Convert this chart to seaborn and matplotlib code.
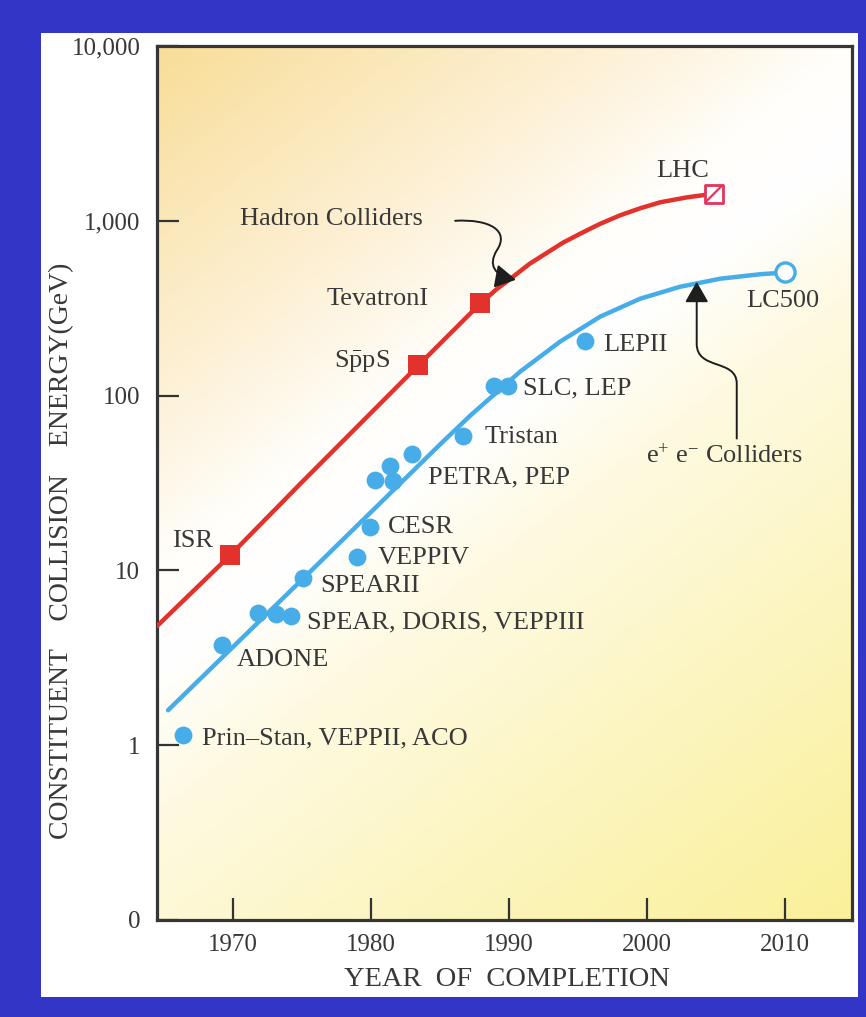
import numpy as np
import pandas as pd
import matplotlib
matplotlib.use("Agg")
import matplotlib.pyplot as plt
import seaborn as sns
from matplotlib.colors import LinearSegmentedColormap
from matplotlib.path import Path
from matplotlib.patches import FancyArrowPatch, Rectangle
from matplotlib.ticker import FixedLocator, FixedFormatter, NullLocator

# ---------------- data ----------------
hadron_names = ["ISR", "SppS", "TevatronI"]
hadron_year = [1969.8, 1983.4, 1987.9]
hadron_gev = [12.2, 150, 340]
lhc_year = [2004.85]
lhc_gev = [1430]

hadron_curve_year = [1964.5, 1969.8, 1974.9, 1983.4, 1987.9, 1989.1, 1990.3,
                     1991.5, 1992.75, 1993.9, 1995.15, 1996.6, 1998.05,
                     1999.5, 2000.95, 2002.9, 2004.8]
hadron_curve_gev = [4.8, 12.2, 31.4, 148, 335, 406, 479, 568, 656, 749, 843,
                    961, 1075, 1179, 1276, 1362, 1427]

ee_year = [1966.4, 1969.2, 1971.8, 1973.1, 1974.2, 1975.1, 1979.0, 1979.9,
           1980.3, 1981.4, 1981.6, 1983.0, 1986.7, 1988.9, 1989.9, 1995.5]
ee_gev = [1.14, 3.73, 5.7, 5.6, 5.5, 9.0, 12.0, 17.8,
          33.0, 39.8, 32.3, 46.6, 59.1, 114, 114, 204]
lc500_year = [2010.0]
lc500_gev = [508]

ee_curve_year = [1965.3, 1975.1, 1985.0, 1987.2, 1990.8, 1993.7, 1996.6,
                 1999.5, 2002.4, 2005.3, 2008.2, 2010.0]
ee_curve_gev = [1.585, 9.0, 52.5, 76.9, 137, 203.5, 282.8, 358.3, 419.6,
                466.3, 494.7, 506]

label_text = ["ISR", r"S$\bar{\mathrm{p}}$pS", "TevatronI", "Hadron Colliders",
              "LC500", "LEPII", "SLC, LEP", "Tristan", "PETRA, PEP", "CESR",
              "VEPPIV", "SPEARII", "SPEAR, DORIS, VEPPIII", "ADONE",
              "Prin–Stan, VEPPII, ACO", r"e$^{+}$ e$^{-}$ Colliders"]
label_year = [1965.6, 1977.3, 1976.8, 1970.5, 2007.2, 1996.8, 1991.0, 1988.2,
              1984.1, 1981.2, 1980.5, 1976.3, 1975.4, 1970.3, 1967.75, 1999.95]
label_gev = [14.8, 158, 358, 1026, 349, 196, 110, 58.3, 34, 17.6, 11.7, 8.1,
             5.05, 3.06, 1.10, 44.8]
lhc_label = ("LHC", 2002.6, 1930)

y_ticks = [0.1, 1, 10, 100, 1000, 10000]
y_ticklabels = ["0", "1", "10", "100", "1,000", "10,000"]
x_ticks = [1970, 1980, 1990, 2000, 2010]

# annotation arrow paths (year, GeV)
had_arrow_year = [1986.1, 1988.6, 1990.1, 1989.1, 1988.5, 1988.9, 1990.5]
had_arrow_gev = [1000, 1027, 877, 674, 561, 485, 460]
ee_arrow_year = [2006.5, 2006.5, 2006.5, 2003.6, 2003.6, 2003.6]
ee_arrow_gev = [56.8, 117, 163, 139, 198, 448]

# ---------------- style ----------------
sns.set_style("ticks")
plt.rcParams["font.family"] = ["Liberation Serif", "DejaVu Serif"]
plt.rcParams["mathtext.fontset"] = "custom"
plt.rcParams["mathtext.rm"] = "Liberation Serif"
plt.rcParams["mathtext.it"] = "Liberation Serif:italic"
plt.rcParams["mathtext.bf"] = "Liberation Serif:bold"

RED = "#E3322C"
BLUE = "#46ADE8"
LHC_C = "#E2345C"
TXT = "#383838"
FRAME = "#3235C6"

W, H = 866, 1017
fig = plt.figure(figsize=(W / 100, H / 100), dpi=100, facecolor=FRAME)
fig.add_artist(Rectangle((41 / W, 1 - 997 / H), (858 - 41) / W, (997 - 33) / H,
                         transform=fig.transFigure, facecolor="white",
                         edgecolor="none", zorder=0))

rect = [157 / W, 1 - 920 / H, 695 / W, 874 / H]

# gradient background
bg = fig.add_axes(rect, zorder=0)
gx, gy = np.meshgrid(np.linspace(0, 1, 300), np.linspace(0, 1, 300))
t = gy - 0.6 * gx - 0.28
cmap = LinearSegmentedColormap.from_list(
    "bg", [(0.0, "#FAF098"), (0.25, "#FCF5C0"), (0.45, "#FEFAE2"),
           (0.55, "#FFFFFF"), (0.62, "#FFFEFA"), (0.75, "#FDF0D4"),
           (1.0, "#F8DC94")])
bg.imshow(t, origin="lower", extent=[0, 1, 0, 1], aspect="auto", cmap=cmap,
          vmin=-0.9, vmax=0.75)
bg.axis("off")

ax = fig.add_axes(rect, zorder=1)
ax.set_facecolor("none")

# curves
sns.lineplot(x=hadron_curve_year, y=hadron_curve_gev, ax=ax, color=RED,
             lw=3.2, estimator=None, sort=False, zorder=3)
sns.lineplot(x=ee_curve_year, y=ee_curve_gev, ax=ax, color=BLUE,
             lw=3.2, estimator=None, sort=False, zorder=3)

# points
sns.scatterplot(x=hadron_year, y=hadron_gev, ax=ax, marker="s", s=200,
                color=RED, edgecolor=RED, linewidth=0, zorder=4)
sns.scatterplot(x=lhc_year, y=lhc_gev, ax=ax, marker="s", s=150,
                facecolor="white", edgecolor=LHC_C, linewidth=2.0, zorder=4)
sns.scatterplot(x=lhc_year, y=lhc_gev, ax=ax, marker=[(-1, -1), (1, 1)], s=150,
                facecolor="none", edgecolor=LHC_C, linewidth=1.6, zorder=5)
sns.scatterplot(x=ee_year, y=ee_gev, ax=ax, marker="o", s=165,
                color=BLUE, edgecolor=BLUE, linewidth=0, zorder=4)
sns.scatterplot(x=lc500_year, y=lc500_gev, ax=ax, marker="o", s=190,
                facecolor="white", edgecolor=BLUE, linewidth=2.4, zorder=4)

ax.set_yscale("log")
ax.set_xlim(1964.5, 2014.85)
ax.set_ylim(0.1, 10000)

# labels
for txt, xx, yy in zip(label_text, label_year, label_gev):
    ax.text(xx, yy, txt, fontsize=19, color=TXT, ha="left", va="center", zorder=6)
ax.text(lhc_label[1], lhc_label[2], lhc_label[0], fontsize=19, color=TXT,
        ha="center", va="center", zorder=6)

# arrows
C4 = Path.CURVE4
had_path = Path(list(zip(had_arrow_year, had_arrow_gev)),
                [Path.MOVETO, C4, C4, C4, C4, C4, C4])
ax.add_patch(FancyArrowPatch(path=had_path,
                             arrowstyle="-|>,head_length=0.7,head_width=0.4",
                             mutation_scale=18, lw=1.4, color="#1e1e1e",
                             zorder=6))
ee_path = Path(list(zip(ee_arrow_year, ee_arrow_gev)),
               [Path.MOVETO, Path.LINETO, C4, C4, C4, Path.LINETO])
ax.add_patch(FancyArrowPatch(path=ee_path,
                             arrowstyle="-|>,head_length=0.7,head_width=0.4",
                             mutation_scale=18, lw=1.4, color="#1e1e1e",
                             zorder=6))

# ticks / spines
ax.yaxis.set_major_locator(FixedLocator(y_ticks))
ax.yaxis.set_major_formatter(FixedFormatter(y_ticklabels))
ax.yaxis.set_minor_locator(NullLocator())
ax.xaxis.set_major_locator(FixedLocator(x_ticks))
ax.xaxis.set_minor_locator(NullLocator())
ax.tick_params(axis="both", direction="in", length=16, width=1.6,
               color="#333333", labelsize=18, labelcolor=TXT)
ax.tick_params(axis="y", pad=12)
ax.tick_params(axis="x", pad=10)
for sp in ax.spines.values():
    sp.set_visible(True)
    sp.set_color("#363636")
    sp.set_linewidth(2.3)
ax.set_xlabel("")
ax.set_ylabel("")

fig.text(507 / W, 1 - 980 / H, "YEAR  OF  COMPLETION", fontsize=20.5,
         color=TXT, ha="center", va="center")
fig.text(62 / W, 1 - 551 / H, "CONSTITUENT    COLLISION    ENERGY(GeV)",
         fontsize=20, color=TXT, ha="center", va="center", rotation=90)

fig.savefig("out.png", dpi=100, facecolor=FRAME)
